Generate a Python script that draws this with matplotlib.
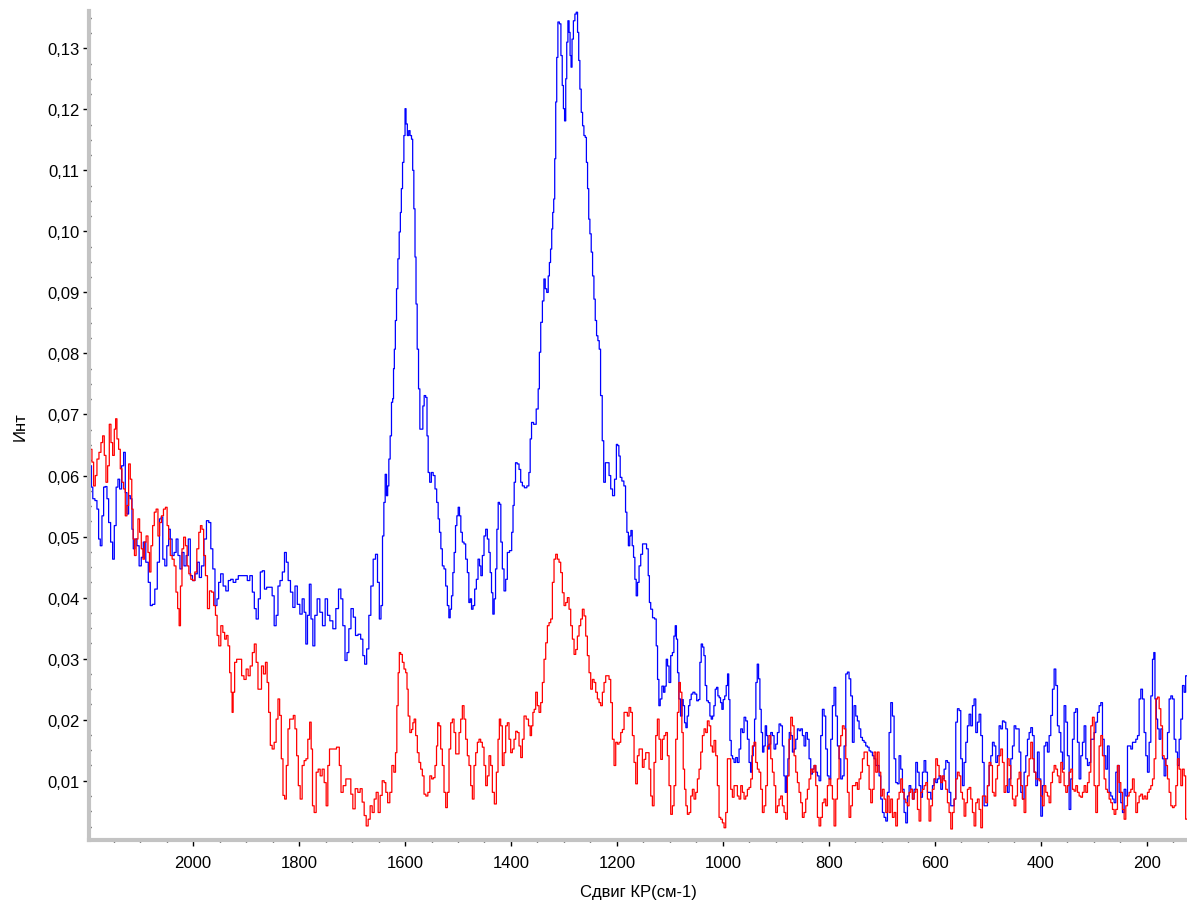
import matplotlib
matplotlib.use("Agg")
import matplotlib.pyplot as plt
from matplotlib.ticker import MultipleLocator, FuncFormatter

plt.rcParams["font.family"] = ["Liberation Sans", "DejaVu Sans"]

# Raman shift (cm-1) and intensity; blue spectrum.
blue_x = [
    2192.5, 2191.2, 2187.5, 2183.1, 2179.9, 2176.8, 2173.6, 2170.5, 2167.3, 2164.2,
    2161.0, 2157.9, 2153.5, 2150.3, 2147.2, 2143.4, 2140.3, 2137.1, 2132.7, 2129.6,
    2126.4, 2123.3, 2120.1, 2117.0, 2113.8, 2112.0, 2107.6, 2104.4, 2099.4, 2096.2,
    2091.8, 2086.8, 2082.4, 2079.2, 2074.8, 2069.8, 2065.4, 2061.6, 2059.1, 2055.3,
    2051.5, 2047.8, 2044.6, 2041.5, 2037.7, 2033.9, 2030.1, 2027.0, 2022.6, 2019.4,
    2015.0, 2011.3, 2006.9, 2003.7, 1998.7, 1994.3, 1989.9, 1986.7, 1981.7, 1977.3,
    1972.3, 1968.5, 1964.7, 1960.9, 1956.5, 1953.4, 1950.2, 1945.8, 1940.8, 1935.7,
    1931.3, 1926.9, 1921.9, 1916.9, 1912.5, 1906.2, 1899.9, 1895.5, 1890.4, 1886.0,
    1882.9, 1879.1, 1874.7, 1871.6, 1867.2, 1863.4, 1859.0, 1852.7, 1848.9, 1845.1,
    1841.4, 1838.2, 1833.8, 1829.4, 1825.6, 1822.5, 1818.7, 1813.7, 1809.9, 1805.5,
    1801.1, 1796.0, 1792.3, 1788.5, 1786.0, 1782.2, 1779.0, 1775.9, 1772.1, 1768.4,
    1763.3, 1758.3, 1753.3, 1748.2, 1744.4, 1739.4, 1733.1, 1728.1, 1723.0, 1719.3,
    1715.5, 1711.1, 1707.9, 1704.2, 1699.8, 1695.4, 1691.6, 1685.9, 1681.5, 1677.7,
    1674.6, 1670.2, 1666.4, 1662.6, 1657.6, 1653.8, 1650.1, 1646.9, 1643.8, 1641.2,
    1638.7, 1636.2, 1633.7, 1631.8, 1629.3, 1626.8, 1624.3,
    1622.3, 1621.1, 1619.2, 1617.3, 1614.8, 1612.3, 1609.7, 1607.9, 1606.0, 1603.4,
    1600.9, 1599.0, 1597.2, 1594.0, 1592.1, 1589.0, 1586.5, 1584.6, 1582.1, 1580.2,
    1578.3, 1575.8, 1573.2,
    1570.8, 1567.6, 1565.1, 1562.6, 1559.4, 1557.6, 1555.0, 1551.9, 1548.7, 1545.0,
    1541.8, 1538.7, 1536.2, 1533.6, 1531.1, 1528.0, 1524.8, 1521.7, 1518.5, 1516.0,
    1513.5, 1511.0, 1508.5, 1506.0, 1503.4, 1500.9, 1498.4, 1495.9, 1493.4, 1490.2,
    1487.1, 1483.9, 1480.8, 1478.3, 1475.7, 1473.2, 1470.1, 1466.9, 1463.8, 1460.6,
    1458.1, 1455.6, 1452.5, 1449.3, 1446.2, 1443.0, 1440.5, 1438.0, 1435.5, 1433.0,
    1430.4, 1427.9, 1425.4, 1422.9, 1420.4, 1417.9, 1414.7, 1411.6, 1408.4, 1405.3,
    1400.2, 1397.1, 1395.2, 1392.7, 1390.2, 1386.4, 1383.2, 1380.1, 1376.9, 1372.5,
    1367.5, 1365.0, 1362.5, 1359.9, 1354.9, 1349.9, 1347.4,
    1345.4, 1342.3, 1339.1, 1336.6, 1334.1, 1331.0, 1328.4, 1326.6, 1324.0, 1322.2,
    1320.3, 1318.4, 1316.5, 1314.6, 1312.7, 1310.2, 1307.0, 1304.5, 1302.0, 1300.1,
    1297.6, 1295.7, 1293.8, 1291.3, 1289.4, 1287.5, 1285.7, 1283.8, 1280.6, 1278.1,
    1275.6, 1273.1, 1271.2, 1268.7, 1266.1, 1263.6, 1261.1, 1258.6, 1256.7, 1254.2,
    1252.3, 1249.8, 1247.3, 1244.7, 1242.2, 1239.7, 1237.2, 1234.7, 1232.2, 1229.6,
    1225.9, 1224.0, 1219.6, 1216.5, 1213.3, 1210.2, 1206.4, 1202.6, 1199.5, 1197.6,
    1195.1, 1192.6, 1188.8, 1185.0, 1182.5, 1180.0, 1176.8, 1174.9, 1172.4, 1169.9,
    1167.4, 1164.9, 1162.4, 1159.8, 1156.7, 1153.5, 1149.8, 1146.0, 1142.2, 1139.7,
    1137.8, 1134.7, 1130.9, 1127.1, 1124.6, 1122.1, 1119.6, 1117.0, 1113.3, 1110.7,
    1108.2, 1105.7, 1103.2, 1100.1, 1096.9, 1093.8, 1091.2, 1088.7, 1086.8, 1084.3,
    1081.8,
    1078.1, 1076.2, 1073.6, 1071.1, 1068.6, 1066.1, 1063.6, 1061.1, 1058.5, 1054.8,
    1051.0, 1047.8, 1044.7, 1042.2, 1039.7, 1037.1, 1034.6, 1032.1, 1029.0, 1025.8,
    1023.3, 1020.8, 1018.3, 1015.7, 1013.2, 1010.7, 1008.2, 1005.7, 1003.2, 1000.7,
    998.1, 995.0, 992.5, 989.9, 988.1, 985.5, 983.0, 980.5, 977.4, 974.2,
    971.1, 967.9, 964.8, 961.6, 958.5, 955.3, 952.2, 949.0, 946.5, 944.0,
    941.5, 939.0, 936.5, 933.9, 931.4, 928.9, 926.4, 923.9, 921.4, 918.8,
    916.3, 913.8, 911.3, 908.1, 905.0, 901.9, 898.7, 895.6, 892.4, 889.3,
    886.1, 883.6, 881.1, 878.6, 876.0, 873.5, 870.4, 867.2, 864.1, 860.9,
    857.8, 854.7, 851.5, 848.4, 845.2, 842.1, 838.9, 835.8, 832.6, 829.5,
    826.3, 823.2, 820.0, 816.9, 813.8, 810.6, 807.5, 804.3, 801.2, 798.0,
    794.9, 791.7, 788.6, 785.4, 782.3, 779.1, 776.0, 772.8, 769.7, 766.5,
    763.4, 760.3, 757.1, 754.0, 750.8, 747.7, 744.5, 741.4, 738.2, 735.1,
    731.9, 728.8, 725.6, 722.5, 719.4, 716.2, 713.1, 709.9, 706.8, 703.6,
    700.5, 697.3, 694.2, 691.0, 687.9, 684.7, 681.6, 678.4, 675.3, 672.2,
    669.0, 665.9, 662.7, 659.6, 656.4, 653.3, 650.1, 647.0, 643.8, 640.7,
    637.5, 634.4, 631.2, 628.1, 624.9, 621.8, 618.7, 615.5, 612.4, 609.2,
    606.1, 602.9, 599.8, 596.6, 593.5, 590.3, 587.2, 584.0, 580.9,
    577.8, 574.6, 571.5, 568.3, 565.2, 562.0, 558.9, 555.7, 552.6, 549.4,
    546.3, 543.1, 540.0, 536.9, 533.7, 530.6, 527.4, 524.3, 521.1, 518.0,
    514.8, 511.7, 508.5, 505.4, 502.2, 499.1, 495.9, 492.8, 489.6, 486.5,
    483.3, 480.2, 477.1, 473.9, 470.8, 467.6, 464.5, 461.3, 458.2, 455.0,
    451.9, 448.7, 445.6, 442.4, 439.3, 436.2, 433.0, 429.9, 426.7, 423.6,
    420.4, 417.3, 414.1, 411.0, 407.8, 404.7, 401.5, 398.4, 395.3, 392.1,
    389.0, 385.8, 382.7, 379.5, 376.4, 373.2, 370.1, 366.9, 363.8, 360.6,
    357.5, 354.4, 351.2, 348.1, 344.9, 341.8, 338.6, 335.5, 332.3, 329.2,
    326.0, 322.9, 319.7, 316.6, 313.4, 310.3, 307.2, 304.0, 300.9, 297.7,
    294.6, 291.4, 288.3, 285.1, 282.0, 278.8, 275.7, 272.5, 269.4, 266.3,
    263.1, 260.0, 256.8, 253.7, 250.5, 247.4, 244.2, 241.1, 237.9, 234.8,
    231.6, 228.5, 225.3, 222.2, 219.0, 215.9, 212.8, 209.6, 206.5, 203.3,
    200.2, 197.0, 193.9, 190.7, 187.6, 185.7, 183.2, 180.7, 178.1, 175.0,
    171.9, 168.7, 165.6, 162.4, 159.3, 156.1, 153.0, 149.8, 146.7, 143.5,
    140.4, 137.2, 134.1, 130.9, 127.8, 125.3,
]
blue_y = [
    0.0616, 0.0581, 0.0562, 0.0559, 0.0545, 0.0496, 0.0485, 0.0534, 0.0581, 0.0582,
    0.0562, 0.0523, 0.0491, 0.0463, 0.0518, 0.0581, 0.0594, 0.0578, 0.0616, 0.0638,
    0.0572, 0.0537, 0.0567, 0.0562, 0.0512, 0.0480, 0.0496, 0.0485, 0.0452, 0.0466,
    0.0491, 0.0458, 0.0425, 0.0387, 0.0389, 0.0414, 0.0458, 0.0529, 0.0532, 0.0463,
    0.0452, 0.0485, 0.0512, 0.0496, 0.0469, 0.0474, 0.0496, 0.0469, 0.0447, 0.0474,
    0.0452, 0.0469, 0.0496, 0.0436, 0.0428, 0.0439, 0.0458, 0.0433, 0.0452, 0.0496,
    0.0526, 0.0523, 0.0480, 0.0447, 0.0387, 0.0398, 0.0425, 0.0439, 0.0419, 0.0411,
    0.0428, 0.0430, 0.0425, 0.0430, 0.0436, 0.0436, 0.0436, 0.0428, 0.0436, 0.0409,
    0.0382, 0.0365, 0.0398, 0.0442, 0.0444, 0.0414, 0.0417, 0.0417, 0.0403, 0.0354,
    0.0371, 0.0419, 0.0428, 0.0442, 0.0474, 0.0458, 0.0428, 0.0409, 0.0384, 0.0419,
    0.0389, 0.0373, 0.0398, 0.0376, 0.0324, 0.0371, 0.0422, 0.0365, 0.0321, 0.0371,
    0.0398, 0.0376, 0.0354, 0.0398, 0.0371, 0.0362, 0.0349, 0.0382, 0.0414, 0.0398,
    0.0354, 0.0297, 0.0310, 0.0349, 0.0382, 0.0368, 0.0338, 0.0340, 0.0332, 0.0305,
    0.0291, 0.0316, 0.0371, 0.0419, 0.0463, 0.0471, 0.0425, 0.0365, 0.0387, 0.0501,
    0.0556, 0.0602, 0.0567, 0.0583, 0.0627, 0.0665, 0.0720,
    0.0726, 0.0775, 0.0807, 0.0854, 0.0906, 0.0955, 0.0999, 0.1031, 0.1070, 0.1113,
    0.1157, 0.1201, 0.1176, 0.1157, 0.1165, 0.1157, 0.1151, 0.1100, 0.1037, 0.0958,
    0.0881, 0.0807, 0.0742,
    0.0676, 0.0676, 0.0714, 0.0731, 0.0728, 0.0665, 0.0605, 0.0589, 0.0605, 0.0600,
    0.0578, 0.0556, 0.0529, 0.0507, 0.0480, 0.0452, 0.0447, 0.0419, 0.0387, 0.0367,
    0.0381, 0.0403, 0.0441, 0.0474, 0.0518, 0.0534, 0.0548, 0.0534, 0.0507, 0.0491,
    0.0488, 0.0463, 0.0441, 0.0392, 0.0398, 0.0381, 0.0387, 0.0414, 0.0430, 0.0463,
    0.0452, 0.0436, 0.0469, 0.0501, 0.0512, 0.0496, 0.0474, 0.0441, 0.0408, 0.0373,
    0.0398, 0.0447, 0.0512, 0.0556, 0.0553, 0.0491, 0.0447, 0.0411, 0.0430, 0.0474,
    0.0477, 0.0507, 0.0551, 0.0589, 0.0621, 0.0619, 0.0610, 0.0589, 0.0583, 0.0580,
    0.0583, 0.0605, 0.0660, 0.0687, 0.0684, 0.0709, 0.0742,
    0.0802, 0.0851, 0.0886, 0.0922, 0.0906, 0.0900, 0.0927, 0.0949, 0.0971, 0.1004,
    0.1031, 0.1053, 0.1119, 0.1212, 0.1285, 0.1343, 0.1340, 0.1288, 0.1239, 0.1201,
    0.1181, 0.1250, 0.1310, 0.1345, 0.1326, 0.1288, 0.1269, 0.1315, 0.1345, 0.1356,
    0.1359, 0.1326, 0.1280, 0.1233, 0.1195, 0.1173, 0.1157, 0.1154, 0.1113, 0.1070,
    0.1020, 0.0996, 0.0966, 0.0927, 0.0889, 0.0854, 0.0829, 0.0821, 0.0807, 0.0731,
    0.0657, 0.0589, 0.0621, 0.0621, 0.0600, 0.0578, 0.0567, 0.0594, 0.0651, 0.0649,
    0.0632, 0.0597, 0.0591, 0.0583, 0.0540, 0.0507, 0.0485, 0.0501, 0.0510, 0.0485,
    0.0466, 0.0430, 0.0403, 0.0425, 0.0452, 0.0471, 0.0488, 0.0488, 0.0480, 0.0436,
    0.0392, 0.0381, 0.0367, 0.0365, 0.0321, 0.0266, 0.0223, 0.0234, 0.0255, 0.0245,
    0.0255, 0.0299, 0.0288, 0.0261, 0.0305, 0.0310, 0.0337, 0.0354, 0.0332, 0.0277,
    0.0234,
    0.0206, 0.0233, 0.0223, 0.0195, 0.0187, 0.0206, 0.0223, 0.0233, 0.0242, 0.0245,
    0.0242, 0.0231, 0.0233, 0.0294, 0.0324, 0.0319, 0.0305, 0.0256, 0.0231, 0.0228,
    0.0206, 0.0201, 0.0206, 0.0223, 0.0250, 0.0253, 0.0239, 0.0236, 0.0228, 0.0217,
    0.0233, 0.0239, 0.0256, 0.0275, 0.0233, 0.0166, 0.0141, 0.0136, 0.0130, 0.0138,
    0.0130, 0.0152, 0.0185, 0.0179, 0.0204, 0.0198, 0.0168, 0.0130, 0.0114, 0.0141,
    0.0157, 0.0201, 0.0261, 0.0291, 0.0267, 0.0217, 0.0179, 0.0147, 0.0157, 0.0190,
    0.0174, 0.0152, 0.0160, 0.0179, 0.0174, 0.0152, 0.0160, 0.0179, 0.0193, 0.0190,
    0.0157, 0.0108, 0.0081, 0.0108, 0.0136, 0.0179, 0.0174, 0.0147, 0.0152, 0.0168,
    0.0185, 0.0182, 0.0185, 0.0174, 0.0157, 0.0179, 0.0168, 0.0136, 0.0111, 0.0119,
    0.0125, 0.0114, 0.0108, 0.0100, 0.0174, 0.0217, 0.0206, 0.0152, 0.0108, 0.0103,
    0.0168, 0.0223, 0.0253, 0.0206, 0.0157, 0.0136, 0.0103, 0.0108, 0.0157, 0.0275,
    0.0278, 0.0267, 0.0239, 0.0163, 0.0223, 0.0206, 0.0198, 0.0185, 0.0171, 0.0166,
    0.0163, 0.0157, 0.0155, 0.0149, 0.0147, 0.0141, 0.0136, 0.0125, 0.0125, 0.0108,
    0.0070, 0.0048, 0.0040, 0.0034, 0.0081, 0.0179, 0.0228, 0.0206, 0.0136, 0.0097,
    0.0095, 0.0141, 0.0119, 0.0086, 0.0048, 0.0031, 0.0075, 0.0092, 0.0086, 0.0070,
    0.0086, 0.0130, 0.0114, 0.0092, 0.0073, 0.0114, 0.0133, 0.0114, 0.0081, 0.0081,
    0.0070, 0.0092, 0.0103, 0.0097, 0.0103, 0.0108, 0.0086, 0.0103, 0.0119,
    0.0133, 0.0130, 0.0081, 0.0059, 0.0059, 0.0070, 0.0196, 0.0218, 0.0215, 0.0136,
    0.0092, 0.0130, 0.0163, 0.0190, 0.0209, 0.0190, 0.0223, 0.0234, 0.0179, 0.0196,
    0.0209, 0.0174, 0.0130, 0.0059, 0.0059, 0.0092, 0.0125, 0.0141, 0.0163, 0.0157,
    0.0130, 0.0141, 0.0190, 0.0185, 0.0198, 0.0196, 0.0185, 0.0081, 0.0103, 0.0136,
    0.0157, 0.0190, 0.0185, 0.0185, 0.0147, 0.0081, 0.0070, 0.0114, 0.0141, 0.0168,
    0.0179, 0.0187, 0.0174, 0.0114, 0.0092, 0.0147, 0.0103, 0.0042, 0.0092, 0.0157,
    0.0163, 0.0147, 0.0174, 0.0207, 0.0250, 0.0283, 0.0256, 0.0190, 0.0179, 0.0147,
    0.0119, 0.0223, 0.0196, 0.0141, 0.0053, 0.0103, 0.0168, 0.0212, 0.0218, 0.0163,
    0.0103, 0.0141, 0.0163, 0.0190, 0.0136, 0.0125, 0.0130, 0.0168, 0.0168, 0.0179,
    0.0196, 0.0212, 0.0223, 0.0228, 0.0168, 0.0141, 0.0119, 0.0157, 0.0081, 0.0075,
    0.0070, 0.0064, 0.0114, 0.0125, 0.0081, 0.0064, 0.0048, 0.0086, 0.0075, 0.0157,
    0.0157, 0.0152, 0.0163, 0.0163, 0.0168, 0.0174, 0.0234, 0.0250, 0.0234, 0.0179,
    0.0141, 0.0114, 0.0163, 0.0239, 0.0299, 0.0310, 0.0234, 0.0201, 0.0185, 0.0168,
    0.0185, 0.0136, 0.0108, 0.0136, 0.0179, 0.0234, 0.0239, 0.0234, 0.0168, 0.0147,
    0.0125, 0.0168, 0.0201, 0.0256, 0.0245, 0.0272,
]

# Red spectrum.
red_x = [
    2195.7, 2192.5, 2189.4, 2186.2, 2183.1, 2179.9, 2175.5, 2172.4, 2169.2, 2166.1,
    2162.9, 2159.8, 2156.6, 2153.5, 2150.3, 2147.2, 2145.3, 2142.2, 2139.0, 2135.9,
    2132.7, 2129.6, 2126.4, 2123.3, 2120.1, 2117.0, 2114.5, 2112.0, 2109.4, 2105.7,
    2102.5, 2099.4, 2096.2, 2093.1, 2090.6, 2086.8, 2083.6, 2081.1, 2078.0, 2074.8,
    2071.7, 2067.9, 2064.8, 2061.6, 2057.8, 2054.1, 2050.3, 2047.8, 2044.6, 2041.5,
    2037.7, 2033.9, 2030.8, 2027.6, 2025.1, 2022.6, 2019.4, 2016.3, 2012.5, 2010.0,
    2006.2, 2002.5, 1998.7, 1994.9, 1991.1, 1987.4, 1984.8, 1981.7, 1978.5, 1974.8,
    1971.0, 1967.2, 1962.8, 1959.7, 1955.9, 1953.4, 1949.6, 1945.8, 1942.0, 1938.9,
    1935.7, 1932.6, 1929.5, 1927.0, 1925.7, 1923.2, 1920.0, 1915.6, 1910.6, 1906.2,
    1901.8, 1898.0, 1894.2, 1890.4, 1886.0, 1882.9, 1879.1, 1876.0, 1872.8, 1869.0,
    1865.3, 1861.5, 1859.0, 1855.8, 1852.7, 1848.9, 1845.1, 1841.4, 1838.2, 1835.1,
    1831.9, 1828.8, 1825.6, 1822.5, 1819.3, 1816.2, 1812.4, 1809.3, 1806.1, 1803.0,
    1799.8, 1796.0, 1792.3, 1788.5, 1785.4, 1781.6, 1778.4, 1775.9, 1773.4, 1769.6,
    1765.8, 1762.0, 1758.3, 1754.5, 1750.7, 1747.0, 1744.4, 1740.7, 1733.1, 1725.6,
    1722.4, 1719.3, 1714.2, 1709.2, 1704.2, 1700.4, 1696.6, 1691.6, 1686.6, 1682.8,
    1679.0, 1675.2, 1671.4, 1667.7, 1663.9, 1660.1, 1656.3, 1652.6, 1648.8, 1645.0,
    1641.2, 1637.5,
    1635.0, 1630.6, 1626.8, 1623.0, 1619.2, 1616.7, 1614.2, 1611.7, 1609.8, 1606.6,
    1603.5, 1600.3, 1597.2, 1595.3, 1592.8, 1589.0, 1586.5, 1584.0, 1581.5, 1578.3,
    1575.2, 1572.0, 1568.9, 1565.7, 1562.6, 1558.8, 1555.0, 1551.3, 1548.1, 1545.0,
    1541.8, 1539.3, 1537.4, 1534.3, 1531.1, 1528.0, 1524.8, 1521.7, 1518.5, 1515.4,
    1512.2, 1509.1, 1505.9, 1502.8, 1499.6, 1496.5, 1493.4, 1490.2, 1487.1, 1483.9,
    1480.8, 1477.6, 1474.5, 1471.3, 1468.2, 1465.0, 1461.9, 1458.8, 1455.6, 1452.5,
    1449.3, 1446.2, 1443.0, 1439.9, 1436.7, 1433.6, 1429.2, 1426.0, 1422.9, 1421.0,
    1417.9, 1414.7, 1411.6, 1408.4, 1405.3, 1402.1, 1399.0, 1395.8, 1392.7, 1389.5,
    1386.4, 1383.2, 1380.1, 1376.9, 1373.8, 1368.8, 1365.0, 1362.5, 1359.9, 1357.4,
    1354.9, 1351.8, 1348.6, 1345.5, 1342.3, 1339.2, 1336.0, 1332.9, 1329.7, 1326.6,
    1323.4, 1320.3, 1317.2, 1314.0, 1310.9, 1307.7, 1304.6, 1301.4, 1298.3, 1295.1,
    1292.0, 1288.8, 1285.7, 1282.5, 1279.4, 1276.2, 1273.1, 1270.0, 1266.8, 1263.7,
    1260.5, 1257.4, 1254.2, 1251.1, 1247.9, 1244.8, 1241.6, 1238.5, 1235.3, 1232.2,
    1229.1, 1225.9, 1222.8, 1219.6, 1216.5, 1213.3, 1210.2, 1207.0, 1203.9, 1200.7,
    1197.6, 1194.4, 1191.3, 1188.1, 1185.0, 1181.9, 1178.7, 1175.6, 1172.4, 1169.3,
    1166.1, 1163.0, 1159.8, 1156.7, 1153.5, 1150.4, 1147.3, 1144.1, 1141.0, 1137.8,
    1134.7, 1131.5, 1128.4, 1125.2, 1122.1, 1118.9, 1115.8, 1112.6, 1109.5, 1106.3,
    1103.2, 1100.1, 1096.9, 1093.8, 1090.6, 1087.5, 1084.3, 1081.8,
    1078.7, 1076.2, 1073.6, 1071.1, 1068.6, 1065.5, 1062.3, 1059.2, 1056.0, 1052.9,
    1049.7, 1046.6, 1043.4, 1040.3, 1037.1, 1034.0, 1030.9, 1027.7, 1024.6, 1021.4,
    1018.3, 1015.1, 1012.0, 1008.8, 1005.7, 1002.5, 999.4, 996.2, 993.1, 989.9,
    986.8, 983.7, 980.5, 977.4, 974.2, 971.1, 967.9, 964.8, 961.6, 958.5,
    955.3, 952.2, 949.0, 945.9, 942.8, 939.6, 936.5, 933.3, 930.2, 927.0,
    923.9, 920.7, 917.6, 914.4, 911.3, 908.1, 905.0, 901.9, 898.7, 895.6,
    892.4, 889.3, 886.1, 883.0, 879.8, 876.7, 873.5, 870.4, 867.2, 864.1,
    860.9, 857.8, 854.7, 851.5, 848.4, 845.2, 842.1, 838.9, 835.8, 832.6,
    829.5, 826.3, 823.2, 820.0, 816.9, 813.8, 810.6, 807.5, 804.3, 801.2,
    798.0, 794.9, 791.7, 788.6, 785.4, 782.3, 779.1, 776.0, 772.8, 769.7,
    766.5, 763.4, 760.3, 757.1, 754.0, 750.8, 747.7, 744.5, 741.4, 738.2,
    735.1, 731.9, 728.8, 725.6, 722.5, 719.4, 716.2, 713.1, 709.9, 706.8,
    703.6, 700.5, 697.3, 694.2, 691.0, 687.9, 684.7, 681.6, 678.4, 675.3,
    672.2, 669.0, 665.9, 662.7, 659.6, 656.4, 653.3, 650.1, 647.0, 643.8,
    640.7, 637.5, 634.4, 631.2, 628.1, 624.9, 621.8, 618.7, 615.5, 612.4,
    609.2, 606.1, 602.9, 599.8, 596.6, 593.5, 590.3, 587.2, 584.0, 580.9,
    577.8, 574.6, 571.5, 568.3, 565.2, 562.0, 558.9, 555.7, 552.6, 549.4,
    546.3, 543.1, 540.0, 536.9, 533.7, 530.6, 527.4, 524.3, 521.1, 518.0,
    514.8, 511.7, 508.5, 505.4, 502.2, 499.1, 495.9, 492.8, 489.6, 486.5,
    483.3, 480.2, 477.1, 473.9, 470.8, 467.6, 464.5, 461.3, 458.2, 455.0,
    451.9, 448.7, 445.6, 442.4, 439.3, 436.2, 433.0, 429.9, 426.7, 423.6,
    420.4, 417.3, 414.1, 411.0, 407.8, 404.7, 401.5, 398.4, 395.3, 392.1,
    389.0, 385.8, 382.7, 379.5, 376.4, 373.2, 370.1, 366.9, 363.8, 360.6,
    357.5, 354.4, 351.2, 348.1, 344.9, 341.8, 338.6, 335.5, 332.3, 329.2,
    326.0, 322.9, 319.7, 316.6, 313.4, 310.3, 307.2, 304.0, 300.9, 297.7,
    294.6, 291.4, 288.3, 285.1, 282.0, 278.8, 275.7, 272.5, 269.4, 266.3,
    263.1, 260.0, 256.8, 253.7, 250.5, 247.4, 244.2, 241.1, 237.9, 234.8,
    231.6, 228.5, 225.3, 222.2, 219.0, 215.9, 212.8, 209.6, 206.5, 203.3,
    200.2, 197.0, 193.9, 190.7, 187.6, 184.4, 181.3, 178.1, 175.0, 171.9,
    168.7, 165.6, 162.4, 159.3, 156.1, 153.0, 149.8, 146.7, 143.5, 140.4,
    137.2, 134.1, 130.9, 127.8, 125.3,
]
red_y = [
    0.0671, 0.0643, 0.0622, 0.0583, 0.0600, 0.0627, 0.0638, 0.0654, 0.0665, 0.0633,
    0.0589, 0.0616, 0.0684, 0.0654, 0.0633, 0.0676, 0.0693, 0.0660, 0.0643, 0.0611,
    0.0589, 0.0578, 0.0534, 0.0551, 0.0619, 0.0594, 0.0545, 0.0496, 0.0469, 0.0496,
    0.0529, 0.0507, 0.0480, 0.0463, 0.0491, 0.0501, 0.0474, 0.0442, 0.0485, 0.0518,
    0.0540, 0.0545, 0.0501, 0.0523, 0.0534, 0.0545, 0.0548, 0.0518, 0.0496, 0.0469,
    0.0463, 0.0452, 0.0409, 0.0382, 0.0354, 0.0419, 0.0480, 0.0499, 0.0485, 0.0452,
    0.0439, 0.0430, 0.0428, 0.0442, 0.0480, 0.0507, 0.0518, 0.0512, 0.0469, 0.0436,
    0.0382, 0.0411, 0.0409, 0.0387, 0.0371, 0.0338, 0.0321, 0.0354, 0.0343, 0.0332,
    0.0338, 0.0321, 0.0277, 0.0245, 0.0212, 0.0245, 0.0294, 0.0299, 0.0299, 0.0272,
    0.0266, 0.0283, 0.0272, 0.0288, 0.0310, 0.0324, 0.0294, 0.0250, 0.0250, 0.0288,
    0.0275, 0.0294, 0.0261, 0.0212, 0.0158, 0.0152, 0.0163, 0.0201, 0.0234, 0.0207,
    0.0136, 0.0076, 0.0070, 0.0125, 0.0185, 0.0201, 0.0201, 0.0207, 0.0185, 0.0141,
    0.0092, 0.0070, 0.0125, 0.0133, 0.0136, 0.0168, 0.0196, 0.0152, 0.0059, 0.0048,
    0.0114, 0.0119, 0.0108, 0.0119, 0.0097, 0.0059, 0.0125, 0.0152, 0.0152, 0.0155,
    0.0125, 0.0081, 0.0092, 0.0103, 0.0103, 0.0078, 0.0054, 0.0087, 0.0081, 0.0087,
    0.0065, 0.0043, 0.0026, 0.0037, 0.0059, 0.0048, 0.0070, 0.0081, 0.0048, 0.0076,
    0.0100, 0.0097,
    0.0081, 0.0064, 0.0081, 0.0125, 0.0114, 0.0146, 0.0223, 0.0277, 0.0310, 0.0307,
    0.0294, 0.0283, 0.0277, 0.0250, 0.0206, 0.0179, 0.0184, 0.0195, 0.0201, 0.0174,
    0.0146, 0.0130, 0.0119, 0.0108, 0.0078, 0.0075, 0.0081, 0.0108, 0.0103, 0.0105,
    0.0125, 0.0157, 0.0195, 0.0190, 0.0152, 0.0125, 0.0081, 0.0056, 0.0081, 0.0152,
    0.0195, 0.0201, 0.0179, 0.0144, 0.0144, 0.0179, 0.0201, 0.0223, 0.0201, 0.0168,
    0.0141, 0.0125, 0.0092, 0.0070, 0.0125, 0.0146, 0.0163, 0.0168, 0.0163, 0.0155,
    0.0125, 0.0092, 0.0108, 0.0141, 0.0125, 0.0081, 0.0062, 0.0114, 0.0168, 0.0201,
    0.0190, 0.0125, 0.0146, 0.0190, 0.0195, 0.0168, 0.0146, 0.0152, 0.0168, 0.0181,
    0.0179, 0.0157, 0.0138, 0.0168, 0.0206, 0.0201, 0.0190, 0.0174, 0.0190, 0.0212,
    0.0217, 0.0245, 0.0223, 0.0212, 0.0228, 0.0261, 0.0299, 0.0326, 0.0354, 0.0359,
    0.0365, 0.0425, 0.0463, 0.0471, 0.0463, 0.0458, 0.0441, 0.0408, 0.0387, 0.0392,
    0.0400, 0.0381, 0.0354, 0.0332, 0.0307, 0.0315, 0.0337, 0.0354, 0.0365, 0.0381,
    0.0370, 0.0337, 0.0305, 0.0277, 0.0250, 0.0266, 0.0261, 0.0245, 0.0234, 0.0228,
    0.0223, 0.0245, 0.0261, 0.0272, 0.0272, 0.0266, 0.0228, 0.0168, 0.0125, 0.0163,
    0.0160, 0.0163, 0.0179, 0.0184, 0.0212, 0.0212, 0.0206, 0.0220, 0.0212, 0.0174,
    0.0130, 0.0095, 0.0141, 0.0152, 0.0152, 0.0122, 0.0135, 0.0146, 0.0146, 0.0119,
    0.0075, 0.0059, 0.0130, 0.0174, 0.0201, 0.0168, 0.0135, 0.0168, 0.0174, 0.0179,
    0.0141, 0.0092, 0.0045, 0.0059, 0.0092, 0.0168, 0.0212, 0.0261,
    0.0245, 0.0179, 0.0119, 0.0086, 0.0059, 0.0045, 0.0048, 0.0075, 0.0086, 0.0070,
    0.0081, 0.0103, 0.0119, 0.0147, 0.0174, 0.0185, 0.0179, 0.0198, 0.0190, 0.0157,
    0.0147, 0.0166, 0.0141, 0.0092, 0.0040, 0.0037, 0.0031, 0.0023, 0.0048, 0.0136,
    0.0136, 0.0086, 0.0073, 0.0092, 0.0092, 0.0075, 0.0070, 0.0092, 0.0081, 0.0070,
    0.0075, 0.0086, 0.0089, 0.0103, 0.0157, 0.0163, 0.0130, 0.0119, 0.0114, 0.0086,
    0.0048, 0.0059, 0.0092, 0.0157, 0.0174, 0.0136, 0.0114, 0.0092, 0.0048, 0.0059,
    0.0070, 0.0075, 0.0059, 0.0048, 0.0037, 0.0108, 0.0168, 0.0204, 0.0190, 0.0141,
    0.0114, 0.0097, 0.0081, 0.0064, 0.0040, 0.0048, 0.0070, 0.0086, 0.0103, 0.0119,
    0.0114, 0.0125, 0.0092, 0.0040, 0.0026, 0.0040, 0.0064, 0.0070, 0.0059, 0.0092,
    0.0103, 0.0092, 0.0070, 0.0026, 0.0070, 0.0103, 0.0157, 0.0174, 0.0190, 0.0185,
    0.0136, 0.0081, 0.0040, 0.0059, 0.0092, 0.0092, 0.0097, 0.0086, 0.0103, 0.0114,
    0.0136, 0.0147, 0.0147, 0.0125, 0.0086, 0.0064, 0.0086, 0.0147, 0.0114, 0.0147,
    0.0114, 0.0075, 0.0086, 0.0070, 0.0048, 0.0075, 0.0048, 0.0070, 0.0040, 0.0048,
    0.0026, 0.0070, 0.0081, 0.0103, 0.0081, 0.0070, 0.0064, 0.0059, 0.0081, 0.0086,
    0.0070, 0.0081, 0.0086, 0.0053, 0.0034, 0.0081, 0.0086, 0.0092, 0.0097, 0.0070,
    0.0034, 0.0059, 0.0086, 0.0103, 0.0136, 0.0125, 0.0108, 0.0097, 0.0108, 0.0100,
    0.0086, 0.0064, 0.0048, 0.0021, 0.0048, 0.0070, 0.0103, 0.0114, 0.0108, 0.0081,
    0.0070, 0.0042, 0.0064, 0.0086, 0.0089, 0.0070, 0.0048, 0.0026, 0.0064, 0.0070,
    0.0053, 0.0023, 0.0075, 0.0075, 0.0064, 0.0092, 0.0130, 0.0125, 0.0081, 0.0075,
    0.0103, 0.0125, 0.0141, 0.0152, 0.0130, 0.0081, 0.0092, 0.0136, 0.0125, 0.0092,
    0.0070, 0.0059, 0.0075, 0.0103, 0.0114, 0.0092, 0.0070, 0.0048, 0.0092, 0.0108,
    0.0136, 0.0163, 0.0136, 0.0114, 0.0103, 0.0103, 0.0100, 0.0075, 0.0059, 0.0092,
    0.0081, 0.0075, 0.0064, 0.0097, 0.0114, 0.0125, 0.0119, 0.0108, 0.0097, 0.0130,
    0.0114, 0.0092, 0.0081, 0.0092, 0.0114, 0.0119, 0.0086, 0.0083, 0.0092, 0.0081,
    0.0075, 0.0073, 0.0081, 0.0092, 0.0081, 0.0097, 0.0114, 0.0190, 0.0204, 0.0092,
    0.0048, 0.0092, 0.0157, 0.0174, 0.0141, 0.0103, 0.0086, 0.0081, 0.0070, 0.0064,
    0.0053, 0.0045, 0.0053, 0.0125, 0.0097, 0.0081, 0.0053, 0.0037, 0.0059, 0.0075,
    0.0081, 0.0086, 0.0103, 0.0081, 0.0048, 0.0064, 0.0075, 0.0078, 0.0070, 0.0075,
    0.0070, 0.0081, 0.0086, 0.0092, 0.0103, 0.0136, 0.0234, 0.0237, 0.0218, 0.0190,
    0.0141, 0.0136, 0.0125, 0.0103, 0.0081, 0.0059, 0.0056, 0.0059, 0.0092, 0.0136,
    0.0119, 0.0092, 0.0119, 0.0108, 0.0037,
]

x_ticks = [2000, 1800, 1600, 1400, 1200, 1000, 800, 600, 400, 200]
y_ticks = [0.01, 0.02, 0.03, 0.04, 0.05, 0.06, 0.07, 0.08, 0.09, 0.10, 0.11, 0.12, 0.13]

fig = plt.figure(figsize=(11.87, 9.03), dpi=100)
ax = fig.add_axes([0.0752, 0.0687, 0.9248, 0.918])

ax.plot(blue_x, blue_y, color="#0000ff", lw=0.9, drawstyle="steps-mid")
ax.plot(red_x, red_y, color="#ff0000", lw=0.9, drawstyle="steps-mid")

ax.set_xlim(2196, 124)
ax.set_ylim(0.0003, 0.1361)

ax.set_xticks(x_ticks)
ax.set_yticks(y_ticks)
ax.xaxis.set_minor_locator(MultipleLocator(50))
ax.yaxis.set_minor_locator(MultipleLocator(0.0025))
ax.yaxis.set_major_formatter(FuncFormatter(lambda v, p: f"{v:.2f}".replace(".", ",")))

for side in ("top", "right"):
    ax.spines[side].set_visible(False)
for side in ("left", "bottom"):
    ax.spines[side].set_color("#c3c3c3")
    ax.spines[side].set_linewidth(3)

ax.tick_params(which="major", direction="out", length=4, width=1, color="black",
               labelsize=12, pad=3)
ax.tick_params(axis="x", which="major", pad=7)
ax.tick_params(which="minor", direction="inout", length=3, width=1, color="black")

ax.set_xlabel("Сдвиг КР(см-1)", fontsize=12, labelpad=10)
ax.set_ylabel("Инт", fontsize=12, labelpad=14)

fig.savefig("out.png", dpi=100)
